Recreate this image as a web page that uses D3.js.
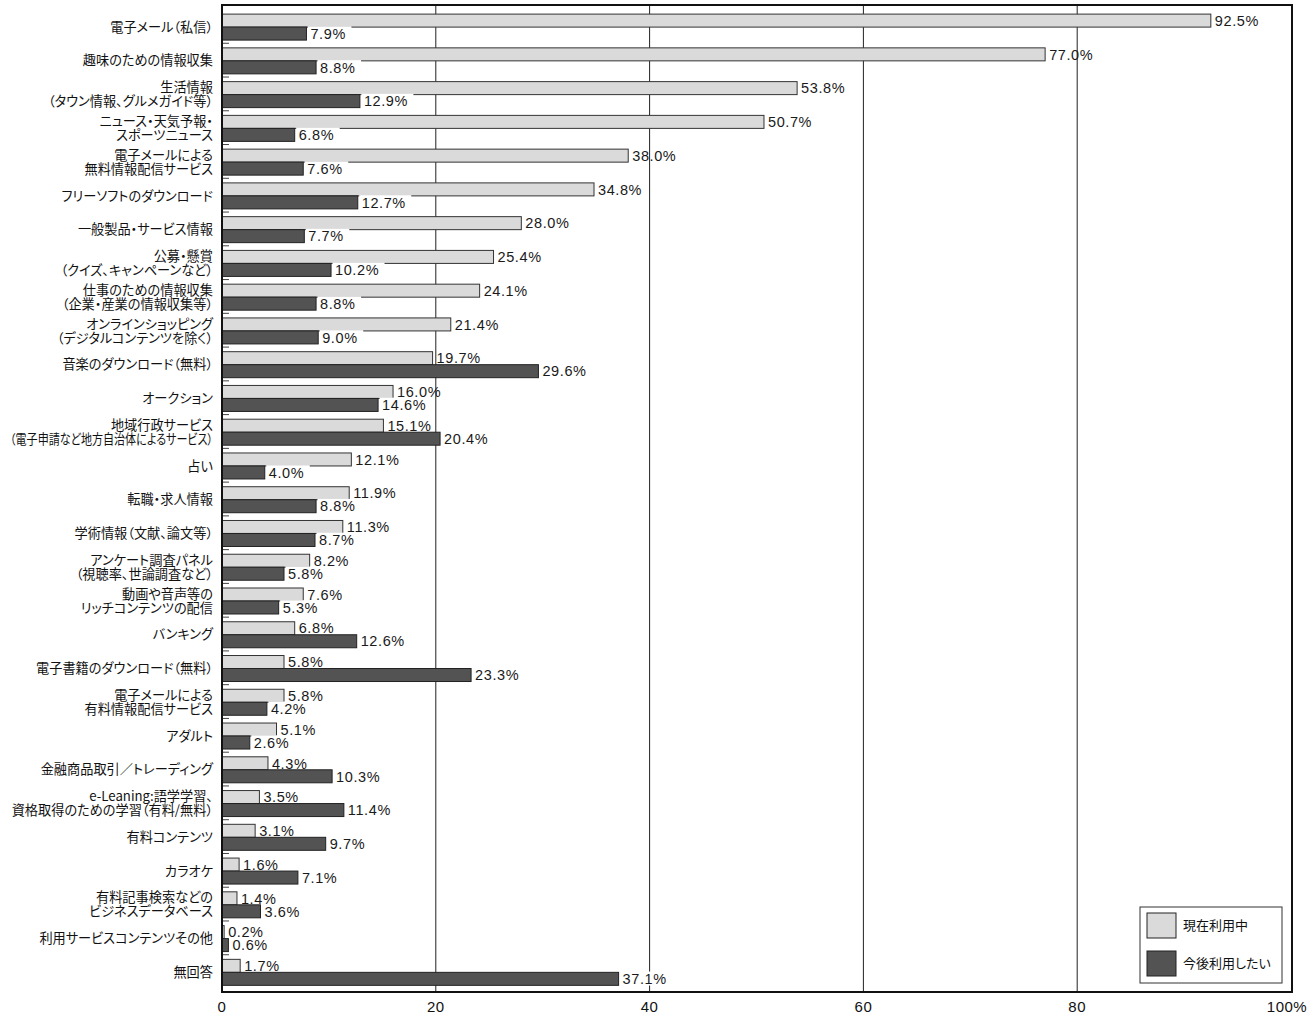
<!doctype html>
<html lang="ja">
<head>
<meta charset="utf-8" />
<title>インターネット利用サービス</title>
<style>
  html, body { margin: 0; padding: 0; background: #fff; }
  svg { display: block; }
  .cat { font: 13.2px "Noto Sans CJK JP", sans-serif; fill: #111; font-feature-settings: "palt"; }
  .val { font: 14.5px "Liberation Sans", Arial, sans-serif; letter-spacing: 0.6px; fill: #1a1a1a; }
  .tick { font: 15px "Liberation Sans", Arial, sans-serif; letter-spacing: 0.5px; fill: #111; }
  .leg { font: 13px "Noto Sans CJK JP", sans-serif; fill: #111; font-feature-settings: "palt"; }
</style>
</head>
<body>
<svg id="chart" width="1314" height="1014"></svg>
<script src="https://cdn.jsdelivr.net/npm/d3@7/dist/d3.min.js"></script>
<script>
// category labels, "\n" = line break in the label
const categories = [
  '電子メール（私信）',
  '趣味のための情報収集',
  '生活情報\n（タウン情報、グルメガイド等）',
  'ニュース・天気予報・\nスポーツニュース',
  '電子メールによる\n無料情報配信サービス',
  'フリーソフトのダウンロード',
  '一般製品・サービス情報',
  '公募・懸賞\n（クイズ、キャンペーンなど）',
  '仕事のための情報収集\n（企業・産業の情報収集等）',
  'オンラインショッピング\n（デジタルコンテンツを除く）',
  '音楽のダウンロード（無料）',
  'オークション',
  '地域行政サービス\n（電子申請など地方自治体によるサービス）',
  '占い',
  '転職・求人情報',
  '学術情報（文献、論文等）',
  'アンケート調査パネル\n（視聴率、世論調査など）',
  '動画や音声等の\nリッチコンテンツの配信',
  'バンキング',
  '電子書籍のダウンロード（無料）',
  '電子メールによる\n有料情報配信サービス',
  'アダルト',
  '金融商品取引／トレーディング',
  'e-Leaning:語学学習、\n資格取得のための学習（有料/無料）',
  '有料コンテンツ',
  'カラオケ',
  '有料記事検索などの\nビジネスデータベース',
  '利用サービスコンテンツその他',
  '無回答'
];

const current = [92.5, 77.0, 53.8, 50.7, 38.0, 34.8, 28.0, 25.4, 24.1, 21.4, 19.7, 16.0, 15.1, 12.1, 11.9,
  11.3, 8.2, 7.6, 6.8, 5.8, 5.8, 5.1, 4.3, 3.5, 3.1, 1.6, 1.4, 0.2, 1.7];
const future = [7.9, 8.8, 12.9, 6.8, 7.6, 12.7, 7.7, 10.2, 8.8, 9.0, 29.6, 14.6, 20.4, 4.0, 8.8,
  8.7, 5.8, 5.3, 12.6, 23.3, 4.2, 2.6, 10.3, 11.4, 9.7, 7.1, 3.6, 0.6, 37.1];

const seriesNames = ['現在利用中', '今後利用したい'];
const tickValues = [0, 20, 40, 60, 80, 100];
const tickLabels = ['0', '20', '40', '60', '80', '100%'];

const LIGHT = '#dadada', DARK = '#535353';
const plot = { left: 222, right: 1292, top: 5, bottom: 992 };
const BAR_H = 13;
const LABEL_X = 213, LABEL_MAX = 203;

const svg = d3.select('#chart');
const x = d3.scaleLinear().domain([0, 100]).range([plot.left, 1291]);
const y = d3.scaleBand().domain(d3.range(categories.length)).range([9.5, 988.5]);
const barTop = i => y(i) + 4.6;

// vertical gridlines
svg.append('g').selectAll('line').data(tickValues.filter(v => v > 0 && v < 100)).join('line')
  .attr('x1', d => x(d)).attr('x2', d => x(d))
  .attr('y1', plot.top).attr('y2', plot.bottom)
  .attr('stroke', '#222').attr('stroke-width', 1);

// small band ticks inside the left axis
svg.append('g').selectAll('line').data(d3.range(categories.length - 1)).join('line')
  .attr('x1', plot.left).attr('x2', plot.left + 7)
  .attr('y1', i => y(i) + y.bandwidth()).attr('y2', i => y(i) + y.bandwidth())
  .attr('stroke', '#444').attr('stroke-width', 1);

// current bars
svg.append('g').selectAll('rect').data(current).join('rect')
  .attr('x', plot.left).attr('y', (d, i) => barTop(i))
  .attr('width', d => x(d) - plot.left).attr('height', BAR_H)
  .attr('fill', LIGHT).attr('stroke', '#333').attr('stroke-width', 1);

svg.append('g').selectAll('text').data(current).join('text')
  .attr('class', 'val')
  .attr('x', d => x(d) + 4).attr('y', (d, i) => barTop(i) + BAR_H / 2)
  .attr('dy', '0.36em')
  .text(d => d.toFixed(1) + '%');

// future bars
svg.append('g').selectAll('rect').data(future).join('rect')
  .attr('x', plot.left).attr('y', (d, i) => barTop(i) + BAR_H)
  .attr('width', d => x(d) - plot.left).attr('height', BAR_H)
  .attr('fill', DARK).attr('stroke', '#222').attr('stroke-width', 1);

const fl = svg.append('g').selectAll('g').data(future).join('g');
fl.append('rect')
  .attr('x', d => x(d) + 1.5).attr('y', (d, i) => barTop(i) + BAR_H - 0.8)
  .attr('width', d => d.toFixed(1).length * 8.5 + 18).attr('height', BAR_H + 1)
  .attr('fill', '#fff');
fl.append('text')
  .attr('class', 'val')
  .attr('x', d => x(d) + 4).attr('y', (d, i) => barTop(i) + BAR_H * 1.5)
  .attr('dy', '0.36em')
  .text(d => d.toFixed(1) + '%');

// category labels: one text per line, squeezed when wider than the margin
const lines = [];
categories.forEach((c, i) => {
  const parts = c.split('\n');
  parts.forEach((p, k) => lines.push({ text: p, i, off: (k - (parts.length - 1) / 2) * 14 }));
});
svg.append('g').selectAll('text').data(lines).join('text')
  .attr('class', 'cat')
  .attr('text-anchor', 'end')
  .attr('x', LABEL_X)
  .attr('y', d => barTop(d.i) + BAR_H + d.off)
  .attr('dy', '0.35em')
  .text(d => d.text)
  .each(function () {
    if (this.getComputedTextLength() > LABEL_MAX) {
      d3.select(this).attr('textLength', LABEL_MAX).attr('lengthAdjust', 'spacingAndGlyphs');
    }
  });

// frame
svg.append('rect')
  .attr('x', plot.left).attr('y', plot.top)
  .attr('width', plot.right - plot.left).attr('height', plot.bottom - plot.top)
  .attr('fill', 'none').attr('stroke', '#111').attr('stroke-width', 2);

// x tick labels
svg.append('g').selectAll('text').data(tickValues).join('text')
  .attr('class', 'tick')
  .attr('text-anchor', 'middle')
  .attr('x', (d, i) => x(d) - (i === tickValues.length - 1 ? 4 : 0))
  .attr('y', 1012)
  .text((d, i) => tickLabels[i]);

// legend
const lg = svg.append('g');
lg.append('rect').attr('x', 1140).attr('y', 907).attr('width', 142).attr('height', 76)
  .attr('fill', '#fff').attr('stroke', '#333').attr('stroke-width', 1);
const li = lg.selectAll('g').data(seriesNames).join('g')
  .attr('transform', (d, i) => `translate(1147,${913 + i * 38})`);
li.append('rect').attr('width', 29).attr('height', 25)
  .attr('fill', (d, i) => i === 0 ? LIGHT : DARK).attr('stroke', '#222').attr('stroke-width', 1);
li.append('text').attr('class', 'leg').attr('x', 36).attr('y', 12.5).attr('dy', '0.35em').text(d => d);
</script>
</body>
</html>
